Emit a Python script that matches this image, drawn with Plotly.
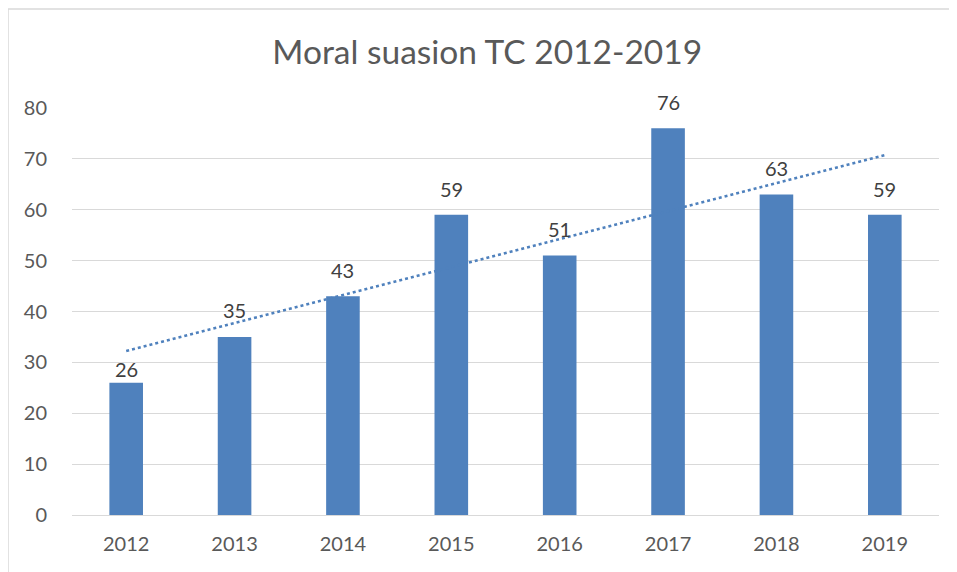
import numpy as np
import plotly.graph_objects as go

years = ["2012", "2013", "2014", "2015", "2016", "2017", "2018", "2019"]
values = [26, 35, 43, 59, 51, 76, 63, 59]
title_text = "Moral suasion TC 2012-2019"

# label vertical offsets (px) above bar tops (styling only)
label_shift = [0, 13, 12, 12, 13, 12, 12, 12]

bar_color = "#4F81BD"
font_family = "Lato, 'Open Sans', sans-serif"

# linear trendline fitted from the values
idx = np.arange(len(values))
slope, intercept = np.polyfit(idx, values, 1)
trend = slope * idx + intercept

fig = go.Figure()
fig.add_trace(go.Bar(
    x=years, y=values, marker=dict(color=bar_color, line=dict(width=0)),
    showlegend=False,
))
fig.add_trace(go.Scatter(
    x=years, y=trend, mode="lines",
    line=dict(color=bar_color, width=2.5, dash="dot"),
    showlegend=False, hoverinfo="skip",
))

# category axis: annotations are placed by category index
annotations = [
    dict(x=i, y=v, text=str(v), showarrow=False, xref="x", yref="y",
         yanchor="bottom", yshift=s,
         font=dict(size=20, color="#404040", family=font_family))
    for i, (v, s) in enumerate(zip(values, label_shift))
]

fig.update_layout(
    width=949, height=564,
    margin=dict(l=64, r=18, t=100, b=57),
    paper_bgcolor="white", plot_bgcolor="white",
    bargap=0.69,
    font=dict(family=font_family, color="#595959", size=20),
    title=dict(text=title_text, x=0.505, xanchor="center", y=0.921, yanchor="middle",
               font=dict(size=33.5, color="#595959", family=font_family)),
    xaxis=dict(type="category", categoryorder="array", categoryarray=years,
               showgrid=False, showline=False, ticks="",
               ticklabelstandoff=15,
               tickfont=dict(size=20, color="#595959")),
    yaxis=dict(range=[0, 80], dtick=10, showgrid=True, gridcolor="#D9D9D9", gridwidth=1.3,
               zeroline=True, zerolinecolor="#D9D9D9", zerolinewidth=1.3,
               showline=False, ticks="", ticklabelstandoff=24,
               tickfont=dict(size=20, color="#595959")),
    annotations=annotations,
    shapes=[dict(type="rect", xref="paper", yref="paper",
                 x0=-0.0738, x1=1.2, y0=-0.5, y1=1.243,
                 line=dict(color="#D9D9D9", width=1.5), layer="below")],
)

fig.write_html("out.html")
